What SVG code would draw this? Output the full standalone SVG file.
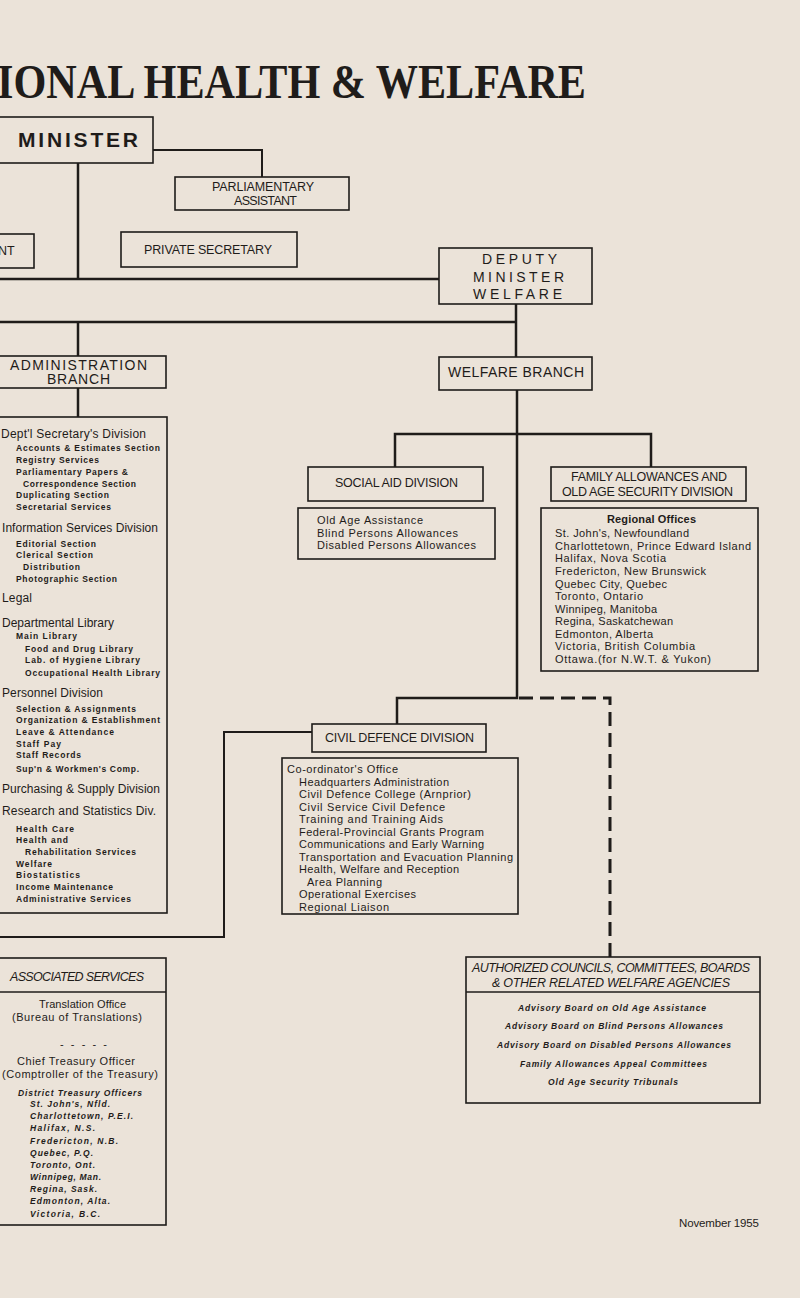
<svg xmlns="http://www.w3.org/2000/svg" width="800" height="1298" viewBox="0 0 800 1298">
<style>
.bx{fill:none;stroke:#1f1c1a;stroke-width:1.6}
.cn{fill:none;stroke:#1f1c1a;stroke-width:2.5}
.dsh{fill:none;stroke:#1f1c1a;stroke-width:3;stroke-dasharray:14 7}
text{font-family:"Liberation Sans",Arial,sans-serif;fill:#1f1c1a}
.hd{font-size:12.5px}
.hl{font-size:14px}
.dv{font-size:12px}
.sb{font-size:8.5px;font-weight:bold}
.ln{font-size:11px}
.it{font-style:italic}
.bi{font-size:8.5px;font-weight:bold;font-style:italic}
</style>
<rect x="0" y="0" width="800" height="1298" fill="#ebe3d9"/>
<text id="title" x="-3" y="98" textLength="589" lengthAdjust="spacingAndGlyphs" style="font-family:'Liberation Serif',serif;font-weight:bold;font-size:48px">IONAL HEALTH &amp; WELFARE</text>

<g id="connectors">
<path class="cn" d="M153,150 H262 V177" style="stroke-width:2"/>
<path class="cn" d="M78,163 V279"/>
<path class="cn" d="M-2,279 H439"/>
<path class="cn" d="M516,304 V357"/>
<path class="cn" d="M-2,322 H516"/>
<path class="cn" d="M78,322 V356"/>
<path class="cn" d="M78,388 V417"/>
<path class="cn" d="M517,390 V698 H397 V724"/>
<path class="cn" d="M395,467 V434 H651 V467"/>
<path class="dsh" d="M519,698 H610 V957"/>
<path class="cn" d="M-2,937 H224 V732 H312" style="stroke-width:2"/>
</g>

<g id="n-minister">
<rect class="bx" x="-5" y="117" width="158" height="46"/>
<text x="18" y="147" textLength="120" style="font-size:21px;font-weight:bold">MINISTER</text>
</g>
<g id="n-assistant-cut">
<rect class="bx" x="-5" y="234" width="39" height="34"/>
<text class="hd" x="-2" y="255">NT</text>
</g>
<g id="n-parliamentary">
<rect class="bx" x="175" y="177" width="174" height="33"/>
<text class="hd" x="212" y="191" textLength="102">PARLIAMENTARY</text>
<text class="hd" x="234" y="205" textLength="63">ASSISTANT</text>
</g>
<g id="n-private">
<rect class="bx" x="121" y="232" width="176" height="35"/>
<text class="hd" x="144" y="254" textLength="128">PRIVATE SECRETARY</text>
</g>
<g id="n-deputy">
<rect class="bx" x="439" y="248" width="153" height="56"/>
<text class="hl" x="482" y="264" textLength="75">DEPUTY</text>
<text class="hl" x="473" y="282" textLength="91">MINISTER</text>
<text class="hl" x="473" y="299" textLength="89">WELFARE</text>
</g>
<g id="n-admin">
<rect class="bx" x="-5" y="356" width="171" height="32"/>
<text class="hl" x="10" y="370" textLength="137">ADMINISTRATION</text>
<text class="hl" x="47" y="384" textLength="63">BRANCH</text>
</g>
<g id="n-admin-detail">
<rect class="bx" x="-5" y="417" width="172" height="496"/>
<text class="dv" x="1" y="438" textLength="145">Dept'l Secretary's Division</text>
<text class="sb" x="16" y="451" textLength="144">Accounts &amp; Estimates Section</text>
<text class="sb" x="16" y="463" textLength="83">Registry Services</text>
<text class="sb" x="16" y="475" textLength="112">Parliamentary Papers &amp;</text>
<text class="sb" x="23" y="487" textLength="113">Correspondence Section</text>
<text class="sb" x="16" y="498" textLength="93">Duplicating Section</text>
<text class="sb" x="16" y="510" textLength="95">Secretarial Services</text>
<text class="dv" x="2" y="532" textLength="156">Information Services Division</text>
<text class="sb" x="16" y="547" textLength="80">Editorial Section</text>
<text class="sb" x="16" y="558" textLength="77">Clerical Section</text>
<text class="sb" x="23" y="570" textLength="57">Distribution</text>
<text class="sb" x="16" y="582" textLength="101">Photographic Section</text>
<text class="dv" x="2" y="602" textLength="30">Legal</text>
<text class="dv" x="2" y="627" textLength="112">Departmental Library</text>
<text class="sb" x="16" y="639" textLength="61">Main Library</text>
<text class="sb" x="25" y="652" textLength="108">Food and Drug Library</text>
<text class="sb" x="25" y="663" textLength="115">Lab. of Hygiene Library</text>
<text class="sb" x="25" y="676" textLength="135">Occupational Health Library</text>
<text class="dv" x="2" y="697" textLength="101">Personnel Division</text>
<text class="sb" x="16" y="712" textLength="120">Selection &amp; Assignments</text>
<text class="sb" x="16" y="723" textLength="144">Organization &amp; Establishment</text>
<text class="sb" x="16" y="735" textLength="98">Leave &amp; Attendance</text>
<text class="sb" x="16" y="747" textLength="45">Staff Pay</text>
<text class="sb" x="16" y="758" textLength="65">Staff Records</text>
<text class="sb" x="16" y="772" textLength="123">Sup'n &amp; Workmen's Comp.</text>
<text class="dv" x="2" y="793" textLength="158">Purchasing &amp; Supply Division</text>
<text class="dv" x="2" y="815" textLength="154">Research and Statistics Div.</text>
<text class="sb" x="16" y="832" textLength="58">Health Care</text>
<text class="sb" x="16" y="843" textLength="52">Health and</text>
<text class="sb" x="25" y="855" textLength="111">Rehabilitation Services</text>
<text class="sb" x="16" y="867" textLength="36">Welfare</text>
<text class="sb" x="16" y="878" textLength="64">Biostatistics</text>
<text class="sb" x="16" y="890" textLength="97">Income Maintenance</text>
<text class="sb" x="16" y="902" textLength="115">Administrative Services</text>
</g>
<g id="n-welfare">
<rect class="bx" x="439" y="357" width="153" height="33"/>
<text class="hl" x="448" y="377" textLength="136">WELFARE BRANCH</text>
</g>
<g id="n-social">
<rect class="bx" x="308" y="467" width="175" height="34"/>
<text class="hd" x="335" y="487" textLength="123">SOCIAL AID DIVISION</text>
</g>
<g id="n-social-detail">
<rect class="bx" x="298" y="508" width="197" height="51"/>
<text class="ln" x="317" y="524" textLength="106">Old Age Assistance</text>
<text class="ln" x="317" y="537" textLength="141">Blind Persons Allowances</text>
<text class="ln" x="317" y="549" textLength="159">Disabled Persons Allowances</text>
</g>
<g id="n-family">
<rect class="bx" x="551" y="467" width="195" height="34"/>
<text class="hd" x="571" y="481" textLength="156">FAMILY ALLOWANCES AND</text>
<text class="hd" x="562" y="496" textLength="171">OLD AGE SECURITY DIVISION</text>
</g>
<g id="n-regional">
<rect class="bx" x="541" y="508" width="217" height="163"/>
<text class="ln" x="607" y="523" textLength="89" style="font-weight:bold">Regional Offices</text>
<text class="ln" x="555" y="537" textLength="134">St. John's, Newfoundland</text>
<text class="ln" x="555" y="550" textLength="196">Charlottetown, Prince Edward Island</text>
<text class="ln" x="555" y="562" textLength="111">Halifax, Nova Scotia</text>
<text class="ln" x="555" y="575" textLength="151">Fredericton, New Brunswick</text>
<text class="ln" x="555" y="588" textLength="112">Quebec City, Quebec</text>
<text class="ln" x="555" y="600" textLength="88">Toronto, Ontario</text>
<text class="ln" x="555" y="613" textLength="102">Winnipeg, Manitoba</text>
<text class="ln" x="555" y="625" textLength="118">Regina, Saskatchewan</text>
<text class="ln" x="555" y="638" textLength="98">Edmonton, Alberta</text>
<text class="ln" x="555" y="650" textLength="140">Victoria, British Columbia</text>
<text class="ln" x="555" y="663" textLength="156">Ottawa.(for N.W.T. &amp; Yukon)</text>
</g>
<g id="n-civil-defence">
<rect class="bx" x="312" y="724" width="174" height="28"/>
<text class="hd" x="325" y="742" textLength="149">CIVIL DEFENCE DIVISION</text>
</g>
<g id="n-cd-detail">
<rect class="bx" x="282" y="758" width="236" height="156"/>
<text class="ln" x="287" y="773" textLength="111">Co-ordinator's Office</text>
<text class="ln" x="299" y="786" textLength="150">Headquarters Administration</text>
<text class="ln" x="299" y="798" textLength="172">Civil Defence College (Arnprior)</text>
<text class="ln" x="299" y="811" textLength="146">Civil Service Civil Defence</text>
<text class="ln" x="299" y="823" textLength="144">Training and Training Aids</text>
<text class="ln" x="299" y="836" textLength="185">Federal-Provincial Grants Program</text>
<text class="ln" x="299" y="848" textLength="185">Communications and Early Warning</text>
<text class="ln" x="299" y="861" textLength="214">Transportation and Evacuation Planning</text>
<text class="ln" x="299" y="873" textLength="160">Health, Welfare and Reception</text>
<text class="ln" x="307" y="886" textLength="75">Area Planning</text>
<text class="ln" x="299" y="898" textLength="117">Operational Exercises</text>
<text class="ln" x="299" y="911" textLength="90">Regional Liaison</text>
</g>
<g id="n-associated">
<rect class="bx" x="-5" y="958" width="171" height="267"/>
<line class="bx" x1="-5" y1="992" x2="166" y2="992"/>
<text class="hd it" x="10" y="981" textLength="134">ASSOCIATED SERVICES</text>
<text class="ln" x="39" y="1008" textLength="87">Translation Office</text>
<text class="ln" x="12" y="1021" textLength="130">(Bureau of Translations)</text>
<text class="ln" x="60" y="1048" textLength="47">- - - - -</text>
<text class="ln" x="17" y="1065" textLength="118">Chief Treasury Officer</text>
<text class="ln" x="2" y="1078" textLength="156">(Comptroller of the Treasury)</text>
<text class="bi" x="18" y="1096" textLength="124">District Treasury Officers</text>
<text class="bi" x="30" y="1107" textLength="80">St. John's, Nfld.</text>
<text class="bi" x="30" y="1119" textLength="103">Charlottetown, P.E.I.</text>
<text class="bi" x="30" y="1131" textLength="65">Halifax, N.S.</text>
<text class="bi" x="30" y="1144" textLength="88">Fredericton, N.B.</text>
<text class="bi" x="30" y="1156" textLength="63">Quebec, P.Q.</text>
<text class="bi" x="30" y="1168" textLength="65">Toronto, Ont.</text>
<text class="bi" x="30" y="1180" textLength="71">Winnipeg, Man.</text>
<text class="bi" x="30" y="1192" textLength="67">Regina, Sask.</text>
<text class="bi" x="30" y="1204" textLength="80">Edmonton, Alta.</text>
<text class="bi" x="30" y="1217" textLength="70">Victoria, B.C.</text>
</g>
<g id="n-authorized">
<rect class="bx" x="466" y="957" width="294" height="146"/>
<line class="bx" x1="466" y1="992" x2="760" y2="992"/>
<text class="hd it" x="472" y="972" textLength="278">AUTHORIZED COUNCILS, COMMITTEES, BOARDS</text>
<text class="hd it" x="492" y="987" textLength="238">&amp; OTHER RELATED WELFARE AGENCIES</text>
<text class="bi" x="518" y="1011" textLength="188">Advisory Board on Old Age Assistance</text>
<text class="bi" x="505" y="1029" textLength="218">Advisory Board on Blind Persons Allowances</text>
<text class="bi" x="497" y="1048" textLength="234">Advisory Board on Disabled Persons Allowances</text>
<text class="bi" x="520" y="1067" textLength="187">Family Allowances Appeal Committees</text>
<text class="bi" x="548" y="1085" textLength="130">Old Age Security Tribunals</text>
</g>
<text id="date" class="ln" x="679" y="1227" textLength="80" style="font-size:11.5px">November 1955</text>
</svg>
